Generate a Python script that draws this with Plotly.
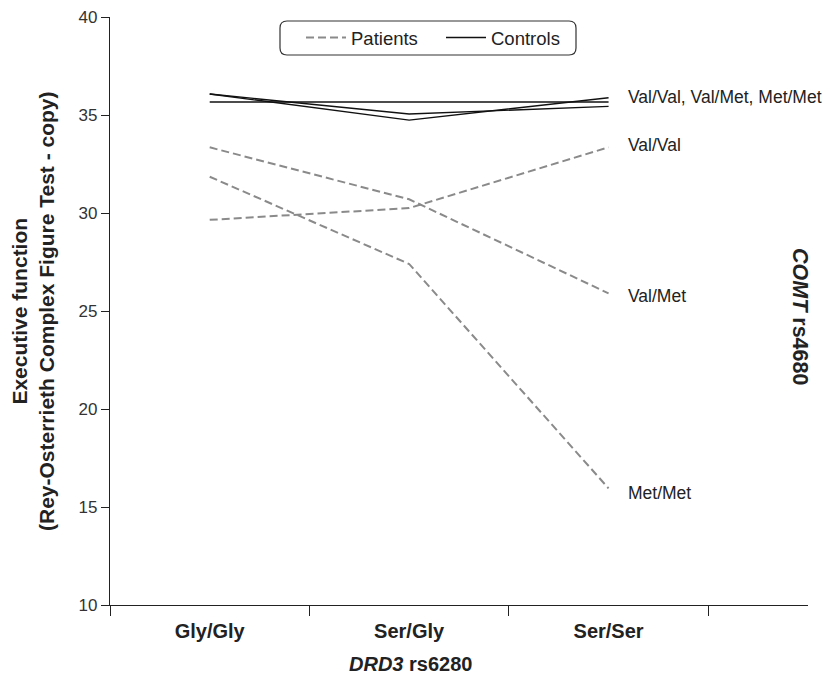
import plotly.graph_objects as go

categories = ["Gly/Gly", "Ser/Gly", "Ser/Ser"]

# Patients (COMT genotype groups)
pat_valval = [29.65, 30.25, 33.35]
pat_valmet = [33.35, 30.70, 25.90]
pat_metmet = [31.85, 27.40, 15.95]

# Controls
ctl_a = [35.66, 35.66, 35.66]
ctl_b = [36.07, 35.05, 35.44]
ctl_c = [36.07, 34.74, 35.88]

y_ticks = [10, 15, 20, 25, 30, 35, 40]

FONT = "Liberation Sans, Arial, Helvetica, sans-serif"
GRAY = "#8a8a8a"

fig = go.Figure()

pat_dash = "8px,4px"
for i, ys in enumerate([pat_valval, pat_valmet, pat_metmet]):
    fig.add_trace(go.Scatter(x=categories, y=ys, mode="lines",
                             line=dict(color=GRAY, width=2, dash=pat_dash),
                             name="Patients", legendgroup="p",
                             showlegend=(i == 0), hoverinfo="skip"))
for i, ys in enumerate([ctl_a, ctl_b, ctl_c]):
    fig.add_trace(go.Scatter(x=categories, y=ys, mode="lines",
                             line=dict(color="#111111", width=1.4),
                             name="Controls", legendgroup="c",
                             showlegend=(i == 0), hoverinfo="skip"))

L, R, T, B = 110, 22, 17, 91
W, H = 830, 696
pw, ph = W - L - R, H - T - B

def px(x):
    return (x - L) / pw

def py(y):
    return (H - B - y) / ph

# right-side labels
labels = [("Val/Val, Val/Met, Met/Met", 35.92), ("Val/Val", 33.47),
          ("Val/Met", 25.77), ("Met/Met", 15.71)]
ann = []
for txt, yv in labels:
    ann.append(dict(x=2, y=yv, xref="x", yref="y", text=txt, showarrow=False,
                    xanchor="left", yanchor="middle", xshift=17,
                    font=dict(family=FONT, size=17.5, color="#222")))

ann.append(dict(x=px(33), y=py(311), xref="paper", yref="paper",
                text="Executive function<br>(Rey-Osterrieth Complex Figure Test - copy)",
                textangle=-90, showarrow=False, xanchor="center", yanchor="middle",
                font=dict(family=FONT, size=21, color="#222", weight="bold")))
ann.append(dict(x=px(410), y=py(664), xref="paper", yref="paper",
                text="<i>DRD3</i> rs6280", showarrow=False,
                xanchor="center", yanchor="middle",
                font=dict(family=FONT, size=20, color="#222", weight="bold")))
ann.append(dict(x=px(800), y=py(316), xref="paper", yref="paper",
                text="<i>COMT</i> rs4680", textangle=90, showarrow=False,
                xanchor="center", yanchor="middle",
                font=dict(family=FONT, size=21.5, color="#222", weight="bold")))

# rounded legend box
x0, x1, y0, y1 = px(280), px(576), py(55), py(21)
rx, ry = 7 / pw, 7 / ph
path = (f"M {x0+rx},{y0} L {x1-rx},{y0} Q {x1},{y0} {x1},{y0+ry} "
        f"L {x1},{y1-ry} Q {x1},{y1} {x1-rx},{y1} L {x0+rx},{y1} "
        f"Q {x0},{y1} {x0},{y1-ry} L {x0},{y0+ry} Q {x0},{y0} {x0+rx},{y0} Z")

fig.update_layout(
    width=W, height=H,
    margin=dict(l=L, r=R, t=T, b=B, autoexpand=False),
    plot_bgcolor="white", paper_bgcolor="white",
    font=dict(family=FONT, size=17, color="#222"),
    showlegend=True,
    legend=dict(orientation="h", x=px(301), y=py(38), xanchor="left", yanchor="middle",
                bgcolor="rgba(0,0,0,0)", borderwidth=0, entrywidth=85,
                font=dict(family=FONT, size=18.5, color="#222"), itemwidth=40),
    shapes=[dict(type="path", path=path, xref="paper", yref="paper",
                 line=dict(color="#333", width=1.2), fillcolor="rgba(0,0,0,0)")],
    annotations=ann,
)
fig.update_xaxes(type="category", categoryorder="array", categoryarray=categories,
                 range=[-0.5, 3.0], tickson="boundaries", ticks="outside", ticklen=10,
                 tickwidth=1.2, tickcolor="#222", showline=True, linecolor="#222",
                 linewidth=1.2, showgrid=False, zeroline=False, automargin=False,
                 tickfont=dict(family=FONT, size=20, color="#222", weight="bold"),
                 ticklabelstandoff=8)
fig.update_yaxes(range=[10, 40], tickvals=y_ticks, ticks="outside", ticklen=8,
                 tickwidth=1.2, tickcolor="#222", showline=True, linecolor="#222",
                 linewidth=1.2, showgrid=False, zeroline=False, automargin=False,
                 tickfont=dict(family=FONT, size=17, color="#333"))

fig.write_html("out.html", config={"displayModeBar": False},
               post_script="document.body.style.margin='0px';")
